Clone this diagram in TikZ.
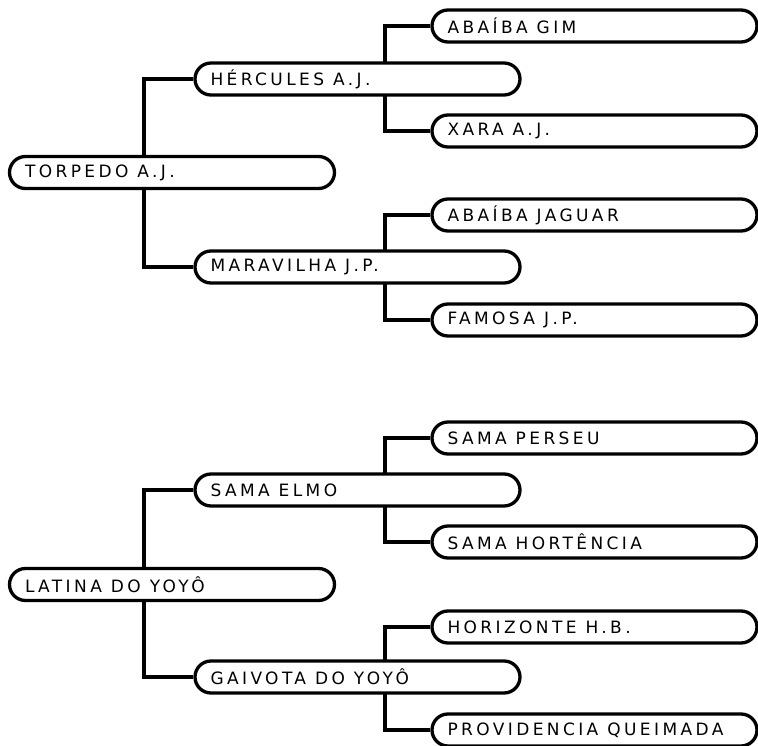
\documentclass[tikz,border=0pt]{standalone}
\usepackage{fontspec}
\usetikzlibrary{calc}
\usetikzlibrary{backgrounds}
\newfontfamily\horsefont[LetterSpace=20]{DejaVu Sans}
\tikzset{
	horse/.style={draw, line width=3.3pt, fill=white, rounded corners=16pt, minimum width=325pt, minimum height=32pt, text width=294pt, inner xsep=15.5pt, inner ysep=0pt, align=left, font=\horsefont\fontsize{17}{20}\selectfont, execute at begin node={\spaceskip=9pt\relax}},
	link/.style={line width=3.3pt},
}
\begin{document}
\begin{tikzpicture}[x=1pt,y=1pt]
	\useasboundingbox (0,0) rectangle (758,745);
	% first pedigree
	\node[horse] at (172,572.5) (torpedo) {TORPEDO A.J.};
	\node[horse] at (357.5,666) (hercules) {HÉRCULES A.J.};
	\node[horse] at (357.5,478) (maravilha) {MARAVILHA J.P.};
	\node[horse] at (594.5,719) (gim) {ABAÍBA GIM};
	\node[horse] at (594.5,614) (xara) {XARA A.J.};
	\node[horse] at (594.5,530) (jaguar) {ABAÍBA JAGUAR};
	\node[horse] at (594.5,425) (famosa) {FAMOSA J.P.};
	% second pedigree
	\node[horse] at (172,160.5) (latina) {LATINA DO YOYÔ};
	\node[horse] at (357.5,255) (elmo) {SAMA ELMO};
	\node[horse] at (357.5,68) (gaivota) {GAIVOTA DO YOYÔ};
	\node[horse] at (594.5,307) (perseu) {SAMA PERSEU};
	\node[horse] at (594.5,203) (hortencia) {SAMA HORTÊNCIA};
	\node[horse] at (594.5,118) (horizonte) {HORIZONTE H.B.};
	\node[horse] at (594.5,15) (providencia) {PROVIDENCIA QUEIMADA};
	\begin{scope}[on background layer]
		\draw[link] (hercules.west) -| ($(torpedo.center)+(-28,0)$) |- (maravilha.west);
		\draw[link] (gim.west) -| ($(hercules.center)+(27.5,0)$) |- (xara.west);
		\draw[link] (jaguar.west) -| ($(maravilha.center)+(27.5,0)$) |- (famosa.west);
		\draw[link] (elmo.west) -| ($(latina.center)+(-28,0)$) |- (gaivota.west);
		\draw[link] (perseu.west) -| ($(elmo.center)+(27.5,0)$) |- (hortencia.west);
		\draw[link] (horizonte.west) -| ($(gaivota.center)+(27.5,0)$) |- (providencia.west);
	\end{scope}
\end{tikzpicture}
\end{document}
